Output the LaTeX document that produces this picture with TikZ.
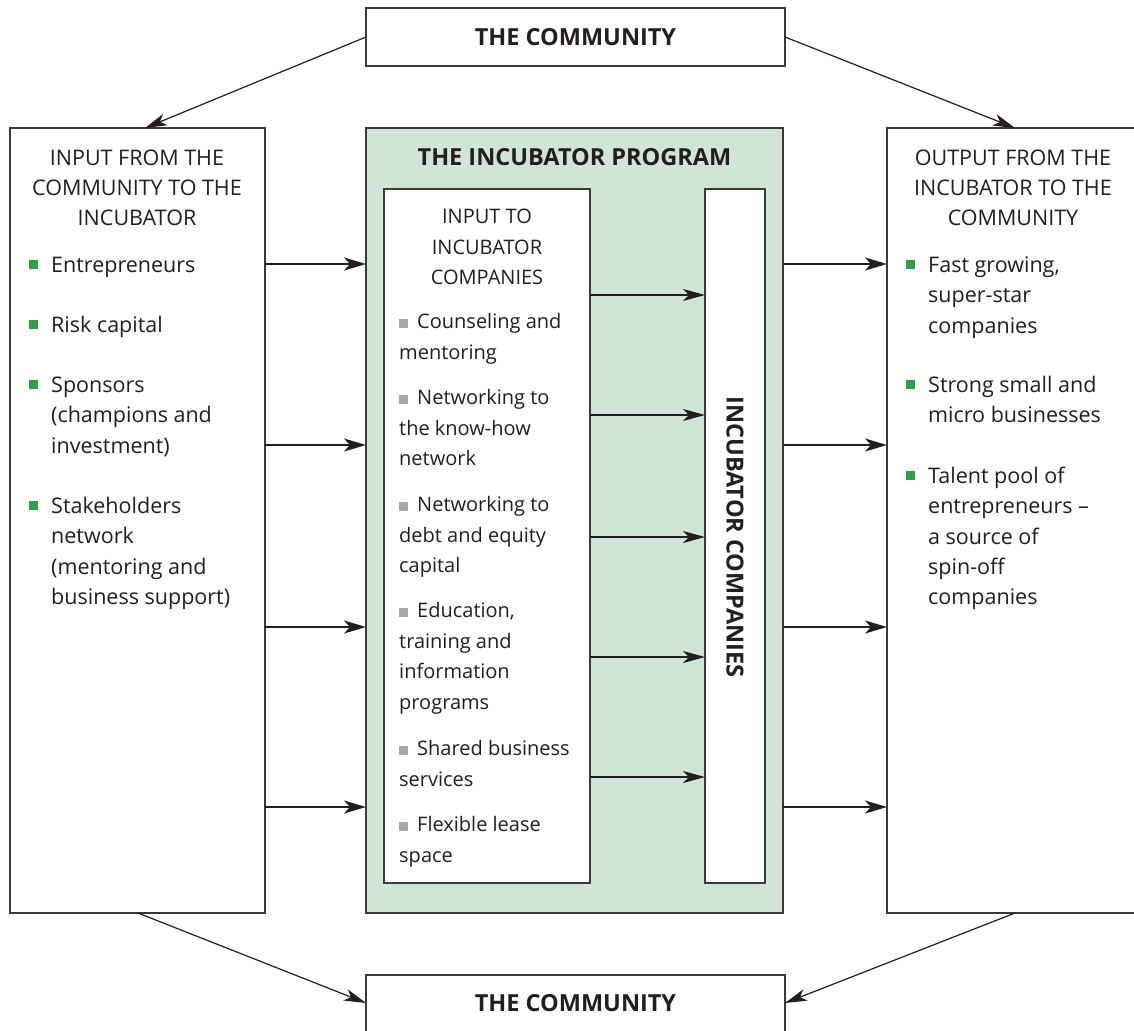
\documentclass[tikz,border=0pt]{standalone}
\usepackage{fontspec}
\setmainfont{Open Sans}
\usetikzlibrary{arrows.meta}
\definecolor{progfill}{HTML}{D1E5D6}
\definecolor{bulgreen}{HTML}{2FA043}
\definecolor{bulgray}{HTML}{A8A8A8}
\definecolor{ink}{HTML}{231F20}
\definecolor{edge}{HTML}{3A3A3A}
\newcommand{\graysq}{\textcolor{bulgray}{\rule[0.5pt]{9pt}{9pt}}\hspace{9pt}}
\begin{document}
\begin{tikzpicture}[x=1pt,y=-1pt,
  box/.style={draw=edge,line width=1.3pt,fill=white,inner sep=0,outer sep=0},
  big/.style={font=\fontsize{21.5}{30.3}\selectfont,text=ink},
  sml/.style={font=\fontsize{20}{30.5}\selectfont,text=ink},
  title/.style={font=\fontsize{23.5}{30.3}\selectfont\bfseries,text=ink,inner sep=0},
  head/.style={big,align=center,inner sep=0},
  item/.style={big,anchor=north west,inner sep=0,align=left},
  sitem/.style={sml,anchor=north west,inner sep=0,align=left},
  gbul/.style={fill=bulgreen,minimum size=9pt,inner sep=0},
  bigarrow/.style={draw=ink,line width=2.4pt,-{Stealth[length=22pt,width=13pt,inset=6pt]}},
  thinarrow/.style={draw=ink,line width=1.2pt,-{Stealth[length=22pt,width=12pt,inset=6pt]}},
]
\useasboundingbox (0,0) rectangle (1134,1030);

% boxes
\node[box,minimum width=419pt,minimum height=58pt] (ctop) at (575.5,37) {};
\node[title] at (ctop.center) {THE COMMUNITY};
\node[box,minimum width=419pt,minimum height=60pt] (cbot) at (575.5,1005) {};
\node[title] (cbott) at (575.5,1003) {THE COMMUNITY};

\node[box,minimum width=255pt,minimum height=785pt] (left) at (137.5,520.5) {};
\node[box,fill=progfill,minimum width=417pt,minimum height=785pt] (prog) at (574.5,520.5) {};
\node[box,minimum width=248pt,minimum height=785pt,anchor=north west] (right) at (887,128) {};

\node[box,minimum width=206pt,minimum height=694pt,anchor=north west] (inin) at (384,189) {};
\node[box,minimum width=60pt,minimum height=694pt,anchor=north west] (comp) at (705,189) {};

% titles
\node[head] (lhead) at (137,188) {INPUT FROM THE\\COMMUNITY TO THE\\INCUBATOR};
\node[head] (rhead) at (1013,188) {OUTPUT FROM THE\\INCUBATOR TO THE\\COMMUNITY};
\node[title] (ptitle) at (574.5,157) {THE INCUBATOR PROGRAM};
\node[head,sml] (ihead) at (487,247) {INPUT TO\\INCUBATOR\\COMPANIES};
\node[title,rotate=-90] (ctext) at (735,537) {INCUBATOR COMPANIES};

% left items
\node[gbul] (lb1) at (33,264) {};
\node[item] (lt1) at (51,251) {\strut Entrepreneurs};
\node[gbul] (lb2) at (33,324) {};
\node[item] (lt2) at (51,311) {\strut Risk capital};
\node[gbul] (lb3) at (33,384) {};
\node[item] (lt3) at (51,371) {\strut Sponsors\\(champions and\\investment)};
\node[gbul] (lb4) at (33,505) {};
\node[item] (lt4) at (51,492) {\strut Stakeholders\\network\\(mentoring and\\business support)};

% right items
\node[gbul] (rb1) at (910,264) {};
\node[item] (rt1) at (928,251) {\strut Fast growing,\\super-star\\companies};
\node[gbul] (rb2) at (910,384) {};
\node[item] (rt2) at (928,371) {\strut Strong small and\\micro businesses};
\node[gbul] (rb3) at (910,475) {};
\node[item] (rt3) at (928,462) {\strut Talent pool of\\entrepreneurs --\\a source of\\spin-off\\companies};

% inner items
\node[sitem] (i1) at (399,307) {\strut\graysq Counseling and\\mentoring};
\node[sitem] (i2) at (399,383) {\strut\graysq Networking to\\the know-how\\network};
\node[sitem] (i3) at (399,490) {\strut\graysq Networking to\\debt and equity\\capital};
\node[sitem] (i4) at (399,596) {\strut\graysq Education,\\training and\\information\\programs};
\node[sitem] (i5) at (399,734) {\strut\graysq Shared business\\services};
\node[sitem] (i6) at (399,810) {\strut\graysq Flexible lease\\space};

% horizontal arrows
\foreach \yy in {264,445,627,807}{
  \draw[bigarrow] (left.east |- 0,\yy) -- (prog.west |- 0,\yy);
  \draw[bigarrow] (prog.east |- 0,\yy) -- (right.west |- 0,\yy);
}
\foreach \yy in {295,415,537,657,777}{
  \draw[thinarrow] (inin.east |- 0,\yy) -- (comp.west |- 0,\yy);
}

% diagonal arrows
\draw[thinarrow] (ctop.west) -- (left.north -| 145,0);
\draw[thinarrow] (ctop.east) -- (right.north -| 1015,0);
\draw[thinarrow] (left.south -| 138,0) -- (cbot.west |- 0,1003);
\draw[thinarrow] (right.south -| 1015,0) -- (cbot.east |- 0,1003);
\end{tikzpicture}
\end{document}
